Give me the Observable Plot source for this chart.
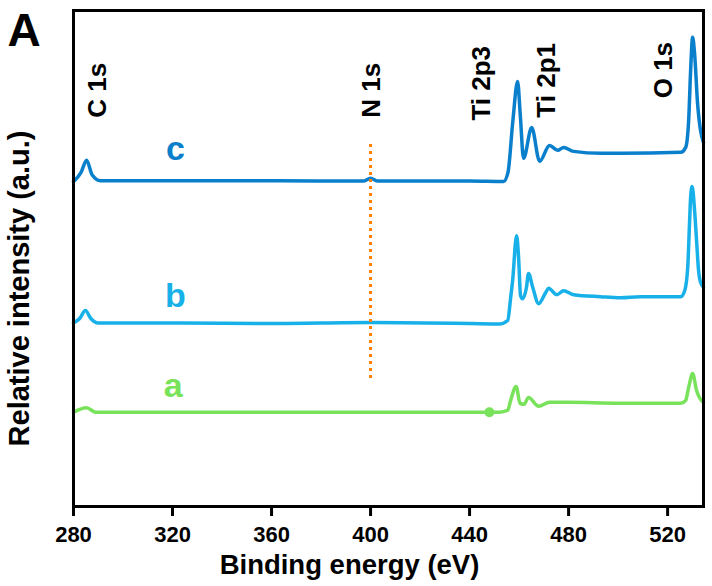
<!DOCTYPE html>
<html>
<head>
<meta charset="utf-8">
<script src="https://cdn.jsdelivr.net/npm/d3@7"></script>
<script src="https://cdn.jsdelivr.net/npm/@observablehq/plot@0.6"></script>
<style>
  html, body { margin: 0; padding: 0; background: #fff; }
  svg { font-family: "Liberation Sans", Arial, sans-serif; }
</style>
</head>
<body>
<div id="chart"></div>
<script>
// Binding energy (eV) and relative intensity (a.u., offset traces)
const energyC = [280, 283, 285.3, 287.5, 290.9, 320, 360, 397, 400, 403, 440, 453.7, 455.5, 457.5, 459.4, 460.5, 461.8, 465.1, 468.3, 472.3, 475.6, 478, 482, 492.9, 501, 525.3, 527.3, 528.5, 529.3, 530.1, 530.9, 532.1, 533.3, 534.5];
const intensityC = [65.5, 67.3, 69.8, 66.9, 65.7, 65.7, 65.7, 65.6, 66.2, 65.6, 65.6, 65.5, 67.3, 77.8, 85.7, 78.8, 70.2, 76.4, 69.6, 72.8, 71.8, 72.4, 71.6, 71.2, 71.2, 71.4, 72.4, 77.8, 87.9, 94.6, 91.3, 81.3, 75.8, 73.4];

const energyB = [280, 282.5, 284.8, 287, 290, 320, 360, 400, 440, 452, 455.4, 456.6, 457.4, 459, 459.8, 460.6, 461.4, 463, 463.8, 465.5, 467.9, 470.7, 471.9, 475.2, 478, 482, 492.9, 501, 509, 525.3, 526.9, 528.1, 528.9, 529.3, 529.9, 530.9, 531.7, 532.5, 533.3, 534.5];
const intensityB = [37.0, 37.9, 39.5, 37.9, 37.0, 37.0, 36.9, 37.1, 36.9, 36.8, 37.5, 42.1, 45.6, 54.6, 50.2, 42.5, 41.9, 44.2, 47.0, 44.2, 40.9, 43.1, 44.0, 42.7, 43.5, 42.7, 42.3, 42.1, 42.3, 42.3, 43.5, 48.0, 57.7, 62.3, 64.5, 59.7, 53.6, 47.6, 45.2, 44.2];

const energyA = [280, 285.3, 289, 320, 360, 400, 440, 452, 455.4, 456.6, 458.8, 460.4, 462, 463.8, 467.9, 472.3, 480, 500, 525.3, 527.3, 528.5, 530.1, 531.7, 533.3, 534.5];
const intensityA = [19.0, 19.9, 19.0, 19.0, 19.0, 19.0, 19.0, 19.0, 19.4, 21.4, 24.2, 20.8, 20.6, 22.0, 20.2, 21.0, 21.0, 20.8, 20.8, 21.4, 24.0, 26.8, 23.4, 21.6, 21.0];

const seriesNames = ["c", "b", "a"];
const seriesColors = ["#0a7fcc", "#18b0e8", "#78e35a"];
const seriesLabelX = [321.2, 321.2, 320.3];
const seriesLabelY = [69.8, 40.2, 22.0];

const peakNames = ["C 1s", "N 1s", "Ti 2p3", "Ti 2p1", "O 1s"];
const peakLabelX = [289.7, 400.4, 444.8, 471.1, 518.4];
const peakLabelY = [78.4, 78.4, 77.8, 78.4, 82.3];

const n1sLine = [{x: 400, y1: 25.8, y2: 73.4}];
const markerA = [{x: 448, y: 19.0}];

const xTicks = [280, 320, 360, 400, 440, 480, 520];
const xDomain = [280, 534.5];
const yDomain = [0, 100];

const toRows = (xs, ys, name) => xs.map((x, i) => ({x, y: ys[i], name}));
const rows = [
  ...toRows(energyC, intensityC, "c"),
  ...toRows(energyB, intensityB, "b"),
  ...toRows(energyA, intensityA, "a")
];
const colorOf = Object.fromEntries(seriesNames.map((n, i) => [n, seriesColors[i]]));
const seriesLabels = seriesNames.map((n, i) => ({name: n, x: seriesLabelX[i], y: seriesLabelY[i]}));
const peakLabels = peakNames.map((n, i) => ({name: n, x: peakLabelX[i], y: peakLabelY[i]}));

const chart = Plot.plot({
  width: 712,
  height: 586,
  marginTop: 10,
  marginRight: 9,
  marginBottom: 80,
  marginLeft: 73,
  x: {domain: xDomain},
  y: {domain: yDomain, axis: null},
  marks: [
    Plot.axisX({ticks: xTicks, tickSize: 10, tickPadding: 10, strokeWidth: 3, fontSize: 22, fontWeight: "bold", tickFormat: d3.format("d"), label: null, color: "#000"}),
    Plot.line(rows, {x: "x", y: "y", z: "name", stroke: d => colorOf[d.name], strokeWidth: 3.5, strokeLinejoin: "round", curve: "monotone-x"}),
    Plot.ruleX(n1sLine, {x: "x", y1: "y1", y2: "y2", stroke: "#ff7f00", strokeWidth: 3, strokeDasharray: "3,4"}),
    Plot.dot(markerA, {x: "x", y: "y", r: 5, fill: seriesColors[2]}),
    Plot.text(seriesLabels, {x: "x", y: "y", text: "name", fill: d => colorOf[d.name], fontSize: 34, fontWeight: "bold", textAnchor: "middle", lineAnchor: "bottom"}),
    Plot.text(peakLabels, {x: "x", y: "y", text: "name", rotate: -90, textAnchor: "start", lineAnchor: "middle", fontSize: 26, fontWeight: "bold", fill: "#000"}),
    Plot.text(["Binding energy (eV)"], {frameAnchor: "bottom", dx: -39, dy: 67, textAnchor: "middle", lineAnchor: "bottom", fontSize: 27.5, fontWeight: "bold", fill: "#000"}),
    Plot.text(["Relative intensity (a.u.)"], {frameAnchor: "left", dx: -54, dy: 30, rotate: -90, textAnchor: "middle", lineAnchor: "middle", fontSize: 29, fontWeight: "bold", fill: "#000"}),
    Plot.text(["A"], {frameAnchor: "top-left", dx: -66, dy: 35, textAnchor: "start", lineAnchor: "bottom", fontSize: 46, fontWeight: "bold", fill: "#000"}),
    Plot.frame({stroke: "#000", strokeWidth: 3})
  ]
});
document.getElementById("chart").appendChild(chart);
</script>
</body>
</html>
